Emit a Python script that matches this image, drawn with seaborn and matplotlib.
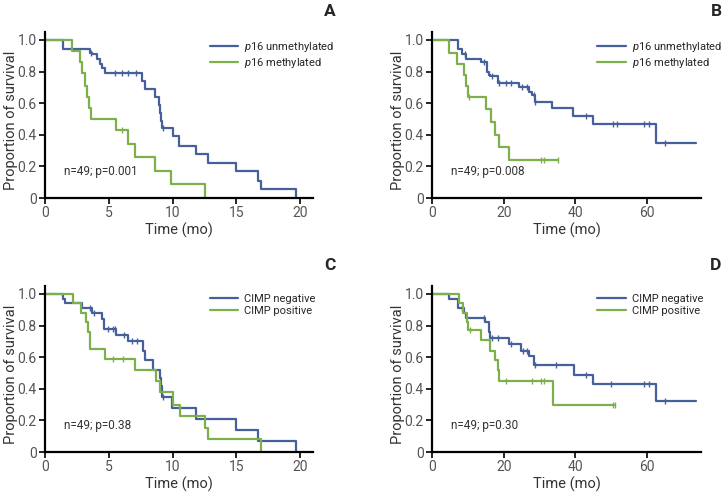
import numpy as np
import pandas as pd
import matplotlib
matplotlib.use("Agg")
import matplotlib.pyplot as plt
import seaborn as sns

# ---- data (time in months, survival proportion) ----
# A: p16, time range 0-20
a_unmeth_t = [0, 1.4, 3.5, 3.7, 4.1, 4.3, 4.5, 4.7, 7.6, 7.8, 8.6, 8.9, 9.0, 9.1, 9.2, 10.0, 10.5, 11.8, 12.8, 15.0, 16.7, 16.9, 19.7]
a_unmeth_s = [1.0, 0.94, 0.92, 0.91, 0.88, 0.85, 0.82, 0.79, 0.74, 0.69, 0.64, 0.59, 0.54, 0.49, 0.44, 0.39, 0.33, 0.28, 0.22, 0.17, 0.11, 0.06, 0.0]
a_unmeth_cens = [3.6, 5.5, 6.0, 6.5, 7.1, 9.25]
a_meth_t = [0, 2.1, 2.75, 2.9, 3.1, 3.3, 3.45, 3.6, 5.6, 6.5, 7.05, 8.6, 9.9, 12.5]
a_meth_s = [1.0, 0.93, 0.86, 0.79, 0.71, 0.64, 0.57, 0.50, 0.43, 0.34, 0.26, 0.17, 0.09, 0.0]
a_meth_cens = [6.0]

# B: p16, time range 0-75
b_unmeth_t = [0, 7.2, 8.4, 9.5, 13.8, 15.3, 15.8, 16.3, 18.4, 24.2, 27.0, 28.0, 28.6, 33.5, 39.3, 45.0, 62.5, 73.5]
b_unmeth_s = [1.0, 0.94, 0.91, 0.88, 0.86, 0.80, 0.78, 0.77, 0.73, 0.70, 0.67, 0.65, 0.61, 0.57, 0.52, 0.47, 0.35, 0.35]
b_unmeth_cens = [9.3, 14.5, 16.6, 18.6, 20.5, 22.0, 25.0, 26.5, 28.3, 28.8, 43.0, 50.5, 51.5, 59.0, 60.5, 65.0]
b_meth_t = [0, 4.8, 7.0, 8.8, 9.6, 10.0, 15.1, 16.5, 17.5, 18.6, 21.4, 35.0]
b_meth_s = [1.0, 0.92, 0.85, 0.78, 0.71, 0.64, 0.56, 0.48, 0.40, 0.32, 0.24, 0.24]
b_meth_cens = [10.4, 30.5, 31.3, 35.0]

# C: CIMP, time range 0-20
c_neg_t = [0, 1.4, 1.55, 2.9, 3.65, 4.45, 4.6, 5.6, 6.5, 7.65, 7.85, 8.5, 9.0, 9.1, 9.2, 9.95, 11.8, 15.0, 16.7, 19.7]
c_neg_s = [1.0, 0.97, 0.94, 0.91, 0.88, 0.84, 0.78, 0.74, 0.70, 0.64, 0.58, 0.52, 0.47, 0.42, 0.35, 0.28, 0.21, 0.14, 0.07, 0.0]
c_neg_cens = [3.5, 3.85, 4.9, 5.3, 5.5, 6.2, 6.8, 7.2, 9.25]
c_pos_t = [0, 2.2, 2.8, 3.2, 3.4, 3.55, 4.7, 7.05, 8.7, 9.0, 10.0, 10.6, 12.5, 12.8, 16.9]
c_pos_s = [1.0, 0.94, 0.88, 0.82, 0.76, 0.65, 0.59, 0.52, 0.45, 0.38, 0.30, 0.23, 0.15, 0.08, 0.0]
c_pos_cens = [5.3, 6.1]

# D: CIMP, time range 0-75
d_neg_t = [0, 4.8, 7.2, 8.8, 9.5, 14.9, 15.8, 16.3, 21.4, 24.9, 27.0, 28.4, 39.5, 45.0, 62.5, 73.5]
d_neg_s = [1.0, 0.97, 0.91, 0.88, 0.85, 0.82, 0.76, 0.72, 0.68, 0.64, 0.61, 0.55, 0.49, 0.43, 0.32, 0.32]
d_neg_cens = [8.5, 14.5, 16.8, 18.3, 22.0, 25.5, 26.5, 28.8, 34.6, 43.0, 50.0, 59.0, 60.5, 65.0]
d_pos_t = [0, 7.4, 8.6, 9.8, 10.0, 13.7, 16.1, 17.5, 18.3, 18.6, 33.8, 51.0]
d_pos_s = [1.0, 0.94, 0.88, 0.82, 0.77, 0.71, 0.64, 0.58, 0.52, 0.45, 0.30, 0.30]
d_pos_cens = [10.5, 20.5, 28.0, 30.5, 31.2, 50.5, 51.0]

panel_letters = ["A", "B", "C", "D"]
p16_labels = [r"$\mathit{p16}$ unmethylated", r"$\mathit{p16}$ methylated"]
cimp_labels = ["CIMP negative", "CIMP positive"]
stats_text = ["n=49; p=0.001", "n=49; p=0.008", "n=49; p=0.38", "n=49; p=0.30"]
x_ticks_short = [0, 5, 10, 15, 20]
x_ticks_long = [0, 20, 40, 60]
y_ticks = [0, 0.2, 0.4, 0.6, 0.8, 1.0]
y_ticklabels = ["0", "0.2", "0.4", "0.6", "0.8", "1.0"]

BLUE = "#46609b"
GREEN = "#7db04a"
FONT = "Roboto"

sns.set_style("ticks")
plt.rcParams["font.family"] = [FONT, "DejaVu Sans"]
plt.rcParams["mathtext.fontset"] = "custom"
plt.rcParams["mathtext.it"] = FONT + ":italic"
plt.rcParams["mathtext.rm"] = FONT


def surv_at(times, surv, pts):
    idx = np.searchsorted(times, pts, side="right") - 1
    return np.asarray(surv)[idx]


def km_panel(ax, curves, labels, xticks, xmax, letter, letter_xy, stat, ylab_x):
    for (t, s, cens), lab, col in zip(curves, labels, [BLUE, GREEN]):
        df = pd.DataFrame({"t": t, "s": s})
        sns.lineplot(data=df, x="t", y="s", drawstyle="steps-post", estimator=None,
                     color=col, lw=1.6, ax=ax, label=lab)
        cy = surv_at(t, s, cens)
        ax.plot(cens, cy, ls="none", marker="|", ms=4, mew=1.0, color=col)
    ax.set_xlim(0, xmax)
    ax.set_ylim(0, 1.05)
    ax.set_xticks(xticks)
    ax.set_yticks(y_ticks)
    ax.set_yticklabels(y_ticklabels)
    ax.set_xlabel("Time (mo)", fontsize=10.5, color="#333333", labelpad=2)
    ax.set_ylabel("Proportion of survival", fontsize=10.5, color="#333333")
    ax.yaxis.set_label_coords(ylab_x, 0.47)
    ax.tick_params(axis="both", labelsize=10, labelcolor="#555555", color="black",
                   length=4, width=1.2, pad=2)
    for sp in ["left", "bottom"]:
        ax.spines[sp].set_linewidth(1.6)
        ax.spines[sp].set_color("black")
    sns.despine(ax=ax)
    ax.legend(loc="upper left", bbox_to_anchor=(0.585, 1.0), frameon=False, fontsize=8,
              handlelength=2.6, handletextpad=0.5, labelspacing=0.2, borderaxespad=0.3)
    ax.text(0.07, 0.16, stat, transform=ax.transAxes, fontsize=8.5, color="#333333",
            va="center")
    fig.text(letter_xy[0] / W, 1 - letter_xy[1] / H, letter, fontsize=12.5,
             fontweight="bold", ha="center", va="center")


W, H = 725, 492
fig = plt.figure(figsize=(W / 100, H / 100), dpi=100)
boxes = [(45, 32, 268, 166), (432, 32, 269, 166), (45, 286, 268, 166), (432, 286, 269, 166)]
letter_pos = [(330, 12), (716, 12), (330, 265), (716, 265)]
ylab_pos = [-0.10, -0.10, -0.10, -0.10]
axes = [fig.add_axes([x / W, 1 - (y + h) / H, w / W, h / H]) for x, y, w, h in boxes]

km_panel(axes[0], [(a_unmeth_t, a_unmeth_s, a_unmeth_cens), (a_meth_t, a_meth_s, a_meth_cens)],
         p16_labels, x_ticks_short, 21, panel_letters[0], letter_pos[0], stats_text[0], ylab_pos[0])
km_panel(axes[1], [(b_unmeth_t, b_unmeth_s, b_unmeth_cens), (b_meth_t, b_meth_s, b_meth_cens)],
         p16_labels, x_ticks_long, 75, panel_letters[1], letter_pos[1], stats_text[1], ylab_pos[1])
km_panel(axes[2], [(c_neg_t, c_neg_s, c_neg_cens), (c_pos_t, c_pos_s, c_pos_cens)],
         cimp_labels, x_ticks_short, 21, panel_letters[2], letter_pos[2], stats_text[2], ylab_pos[2])
km_panel(axes[3], [(d_neg_t, d_neg_s, d_neg_cens), (d_pos_t, d_pos_s, d_pos_cens)],
         cimp_labels, x_ticks_long, 75, panel_letters[3], letter_pos[3], stats_text[3], ylab_pos[3])

plt.savefig("out.png", dpi=100)
